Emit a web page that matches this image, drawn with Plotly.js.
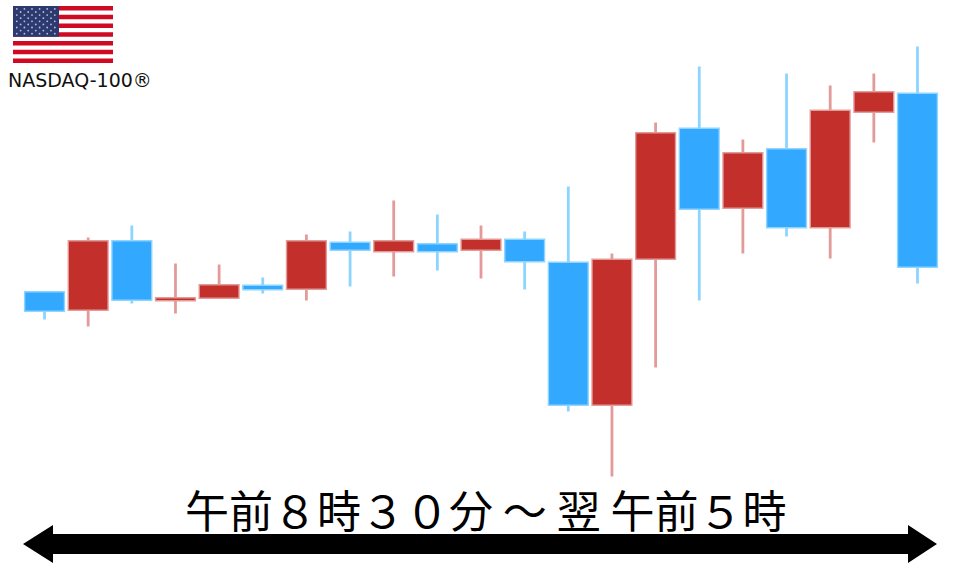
<!DOCTYPE html>
<html>
<head>
<meta charset="utf-8">
<script src="https://cdn.plot.ly/plotly-3.0.1.min.js"></script>
<style>html,body{margin:0;padding:0;background:#fff}#chart{width:960px;height:567px}</style>
</head>
<body>
<div id="chart"></div>
<script>
// Session index
var sessions = [0,1,2,3,4,5,6,7,8,9,10,11,12,13,14,15,16,17,18,19,20];
// Prices, on an unlabelled scale (the reference has no price axis)
var opens  = [275, 258, 326, 267.5, 270, 281.5, 279, 324.5, 316.5, 323, 318, 327.5, 304.5, 163, 309, 438.5, 360, 418, 340.5, 456, 473.5];
var highs  = [275, 330, 342, 304, 303, 290, 333, 336, 367, 353, 342, 336, 381, 314, 445, 501, 428, 494, 482, 494, 521];
var lows   = [248, 241, 264, 254, 270, 274, 267, 281, 291, 297, 289, 278, 156, 91, 200, 267, 314, 331, 309, 425, 284];
var closes = [257, 326, 268, 269, 282, 278.5, 326, 318, 326, 316.5, 327.5, 306.5, 163, 307.5, 434, 359, 414, 340.5, 456.5, 475, 301];

var mainTitle = "午前８時３０分 ～ 翌 午前５時";
var indexName = "NASDAQ-100®";

var W = 960, H = 567;
function px(x){ return x / W; }
function py(y){ return 1 - y / H; }
function rect(x0, y0, x1, y1, color){
  return {type:"rect", xref:"paper", yref:"paper", x0:px(x0), x1:px(x1), y0:py(y0), y1:py(y1),
          fillcolor:color, line:{width:0}, layer:"above"};
}

var shapes = [];
// Flag
var fx = 13, fy = 6, fw = 100, fh = 57, sh = fh / 13;
for (var s = 0; s < 13; s += 2) {
  shapes.push(rect(fx, fy + s * sh, fx + fw, fy + (s + 1) * sh, "#cf0a22"));
}
shapes.push(rect(fx, fy, fx + 46, fy + 7 * sh, "#2c3a70"));
for (var r = 0; r < 9; r++) {
  var n = r % 2 ? 5 : 6;
  for (var c = 0; c < n; c++) {
    var sx = fx + 3.8 + (r % 2 ? 3.8 : 0) + c * 7.6;
    var sy = fy + 2.9 + r * 3.1;
    shapes.push({type:"circle", xref:"paper", yref:"paper", x0:px(sx-0.9), x1:px(sx+0.9),
                 y0:py(sy+0.9), y1:py(sy-0.9), fillcolor:"#b9c0d6", line:{width:0}, layer:"above"});
  }
}
// Double-headed arrow
var a = [[23,544],[53,525],[53,534],[908,534],[908,525],[937,544],[908,563],[908,554],[53,554],[53,563]];
var path = a.map(function(p,i){ return (i ? "L" : "M") + px(p[0]) + "," + py(p[1]); }).join(" ") + " Z";
shapes.push({type:"path", xref:"paper", yref:"paper", path:path, fillcolor:"#000", line:{width:0}, layer:"above"});

// Pale wicks and halo underneath, solid bodies on top
var wicks = {
  type:"candlestick", x:sessions, open:opens, high:highs, low:lows, close:closes,
  increasing:{line:{color:"#e39b99", width:2.8}, fillcolor:"#e39b99"},
  decreasing:{line:{color:"#8dd4ff", width:2.8}, fillcolor:"#8dd4ff"},
  hoverinfo:"skip", showlegend:false
};
var bodies = {
  type:"candlestick", x:sessions, open:opens, high:highs, low:lows, close:closes,
  increasing:{line:{color:"#c3302b", width:0}, fillcolor:"#c3302b"},
  decreasing:{line:{color:"#33a8ff", width:0}, fillcolor:"#33a8ff"},
  hoverinfo:"skip", showlegend:false
};

var layout = {
  width:W, height:H, margin:{l:0,r:0,t:0,b:0}, paper_bgcolor:"#fff", plot_bgcolor:"#fff",
  showlegend:false, boxmode:"overlay", boxgap:0.12, boxgroupgap:0,
  xaxis:{range:[-1.02,20.974], visible:false, fixedrange:true, rangeslider:{visible:false}},
  yaxis:{range:[0.5,567.5], visible:false, fixedrange:true},
  shapes:shapes,
  annotations:[
    {text:mainTitle, xref:"paper", yref:"paper", x:px(486.5), y:py(509), xanchor:"center", yanchor:"middle",
     showarrow:false, font:{family:"'Noto Sans CJK JP'", size:44, color:"#000"}},
    {text:indexName, xref:"paper", yref:"paper", x:px(6), y:py(80), xanchor:"left", yanchor:"middle",
     showarrow:false, font:{family:"'DejaVu Sans'", size:19, color:"#111"}}
  ]
};
Plotly.newPlot("chart", [wicks, bodies], layout, {displayModeBar:false, staticPlot:true});
</script>
</body>
</html>
